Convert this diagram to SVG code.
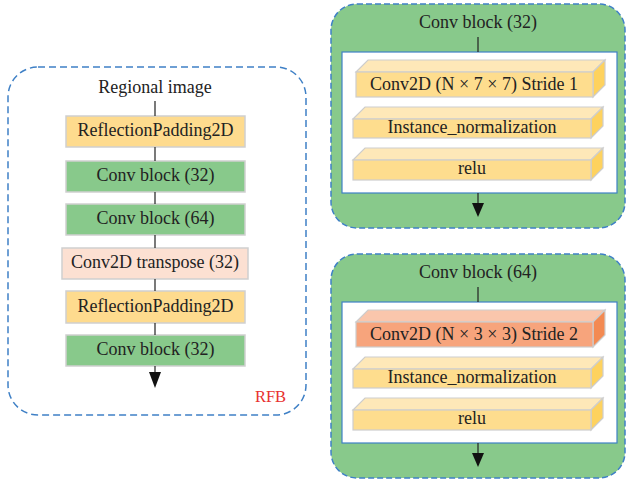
<svg xmlns="http://www.w3.org/2000/svg" width="626" height="481" viewBox="0 0 626 481">
<style>
text{font-family:"Liberation Serif","Times New Roman",serif;font-size:18px;fill:#222;text-anchor:middle}
.box{stroke:#cfcfcf;stroke-width:1.5}
.yel{fill:#fedb8e}
.grn{fill:#88c98b}
.pch{fill:#fce0d2}
.panel{fill:#88c98b;stroke:#3f80c6;stroke-width:1.5;stroke-dasharray:6 3}
.inner{fill:#fff;stroke:#3f80c6;stroke-width:1.2}
.ln{stroke:#222;stroke-width:1.2;fill:none}
.ah{fill:#111}
.e3{stroke:#cdcdcd;stroke-width:1.2}
.yf{fill:#fedd8e}.yt{fill:#fee8b8}.yr{fill:#fed25e}
.of{fill:#f7a47c}.ot{fill:#fac6ac}.or{fill:#f38a52}
</style>
<g id="rfb-panel">
<rect x="8" y="67" width="298" height="348" rx="30" fill="none" stroke="#3f80c6" stroke-width="1.5" stroke-dasharray="7 4"/>
<text x="155" y="93">Regional image</text>
<text x="270.5" y="402" style="fill:#e8312f;font-size:16.5px">RFB</text>
</g>
<g id="n-refpad1"><rect class="box yel" x="66" y="116" width="179" height="31"/><text x="155.5" y="136">ReflectionPadding2D</text></g>
<g id="n-conv32a"><rect class="box grn" x="66" y="161" width="179" height="31"/><text x="155.5" y="181">Conv block (32)</text></g>
<g id="n-conv64"><rect class="box grn" x="66" y="204" width="179" height="31"/><text x="155.5" y="224">Conv block (64)</text></g>
<g id="n-transpose"><rect class="box pch" x="62" y="248" width="186" height="31"/><text x="155" y="268">Conv2D transpose (32)</text></g>
<g id="n-refpad2"><rect class="box yel" x="66" y="291" width="179" height="32"/><text x="155.5" y="311.5">ReflectionPadding2D</text></g>
<g id="n-conv32b"><rect class="box grn" x="66" y="335" width="179" height="31"/><text x="155.5" y="355">Conv block (32)</text></g>

<g id="detail-conv32">
<rect class="panel" x="331" y="4" width="294" height="224" rx="26"/>
<text x="478" y="28">Conv block (32)</text>
<rect class="inner" x="342" y="52" width="275" height="141"/>
<g id="d1-conv2d">
<polygon class="e3 yt" points="356,72 368,60 605,60 593,72"/>
<polygon class="e3 yr" points="593,72 605,60 605,85 593,97"/>
<rect class="e3 yf" x="356" y="72" width="237" height="25"/>
<text x="474" y="89.5">Conv2D (N × 7 × 7) Stride 1</text>
</g>
<g id="d1-inorm">
<polygon class="e3 yt" points="353,119 365,107 603,107 591,119"/>
<polygon class="e3 yr" points="591,119 603,107 603,126 591,138"/>
<rect class="e3 yf" x="353" y="119" width="238" height="19"/>
<text x="472" y="132.5">Instance_normalization</text>
</g>
<g id="d1-relu">
<polygon class="e3 yt" points="353,160 365,148 603,148 591,160"/>
<polygon class="e3 yr" points="591,160 603,148 603,168 591,180"/>
<rect class="e3 yf" x="353" y="160" width="238" height="20"/>
<text x="472" y="173.5">relu</text>
</g>
</g>

<g id="detail-conv64">
<rect class="panel" x="331" y="254" width="294" height="224" rx="26"/>
<text x="478" y="278">Conv block (64)</text>
<rect class="inner" x="342" y="302" width="275" height="141"/>
<g id="d2-conv2d">
<polygon class="e3 ot" points="356,322 368,310 605,310 593,322"/>
<polygon class="e3 or" points="593,322 605,310 605,335 593,347"/>
<rect class="e3 of" x="356" y="322" width="237" height="25"/>
<text x="474" y="339.5">Conv2D (N × 3 × 3) Stride 2</text>
</g>
<g id="d2-inorm">
<polygon class="e3 yt" points="353,369 365,357 603,357 591,369"/>
<polygon class="e3 yr" points="591,369 603,357 603,376 591,388"/>
<rect class="e3 yf" x="353" y="369" width="238" height="19"/>
<text x="472" y="382.5">Instance_normalization</text>
</g>
<g id="d2-relu">
<polygon class="e3 yt" points="353,410 365,398 603,398 591,410"/>
<polygon class="e3 yr" points="591,410 603,398 603,418 591,430"/>
<rect class="e3 yf" x="353" y="410" width="238" height="20"/>
<text x="472" y="423.5">relu</text>
</g>
</g>

<g id="connectors">
<path class="ln" d="M155,101V116M155,147V161M155,192V204M155,235V248M155,279V291M155,323V335M155,366V374"/>
<polygon class="ah" points="149,372 161,372 155,388"/>
<path class="ln" d="M478,37V52M478,193V205M478,287V302M478,443V455"/>
<polygon class="ah" points="472,203 484,203 478,217"/>
<polygon class="ah" points="472,453 484,453 478,467"/>
</g>
</svg>
